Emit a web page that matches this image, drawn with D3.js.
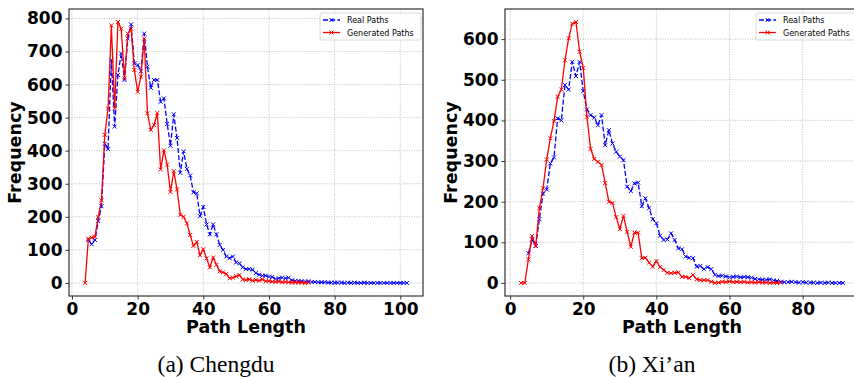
<!DOCTYPE html>
<html>
<head>
<meta charset="utf-8">
<script src="https://cdn.jsdelivr.net/npm/d3@7"></script>
<style>
  body { margin: 0; background: #fff; }
  svg { display: block; }
  .tick text { font-family: "DejaVu Sans", sans-serif; font-weight: bold; font-size: 17px; fill: #000; }
  .axis-label { font-family: "DejaVu Sans", sans-serif; font-weight: bold; font-size: 17.5px; fill: #000; }
  .caption { font-family: "Liberation Serif", "Times New Roman", serif; font-size: 23.5px; fill: #000; }
  .legend text { font-family: "DejaVu Sans", sans-serif; font-size: 8px; fill: #000; }
</style>
</head>
<body>
<div id="chart"></div>
<script>
// path lengths + frequencies
const chengduRealStart = 5;
const chengduReal = [130, 117, 130, 187, 232, 421, 405, 674, 473, 629, 694, 614, 739, 782, 664, 659, 640, 754, 654, 590,
  614, 614, 548, 558, 481, 415, 510, 438, 333, 398, 345, 325, 274, 271, 202, 230, 177, 147, 177, 147,
  115, 100, 80, 75, 80, 62, 59, 47, 42, 42, 40, 30, 25, 22, 22, 19, 18, 12, 14, 16,
  14, 16, 8, 6, 6, 5, 4, 5, 3, 3, 2, 2, 2, 1, 1, 1, 1, 1, 0, 1,
  0, 1, 0, 0, 1, 0, 0, 0, 0, 0, 0, 0, 0, 0, 0, 0, 0, 0];
const chengduGenStart = 4;
const chengduGen = [0, 134, 137, 140, 200, 250, 448, 528, 779, 528, 789, 769, 619, 754, 769, 644, 578, 624, 739, 513,
  463, 478, 514, 343, 401, 358, 275, 338, 283, 206, 200, 180, 145, 112, 124, 84, 102, 74, 47, 77,
  55, 35, 32, 27, 14, 16, 20, 24, 10, 9, 11, 7, 9, 7, 11, 5, 6, 4, 3, 5,
  2, 3, 2, 1, 2, 1, 1, 0, 1];

const xianRealStart = 5;
const xianReal = [73, 107, 91, 157, 220, 230, 294, 309, 405, 400, 487, 476, 544, 509, 544, 472, 427, 413, 407, 388,
  413, 339, 376, 343, 323, 311, 302, 237, 226, 245, 247, 189, 208, 184, 157, 147, 116, 106, 107, 122,
  106, 85, 83, 65, 62, 61, 40, 42, 34, 39, 34, 20, 17, 18, 16, 14, 15, 16, 14, 15,
  14, 13, 10, 9, 8, 8, 9, 6, 5, 3, 2, 2, 3, 2, 1, 2, 1, 1, 1, 0,
  1, 0, 1, 0, 0, 0, 0];
const xianGenStart = 3;
const xianGen = [0, 0, 58, 116, 91, 184, 233, 304, 356, 399, 458, 476, 548, 602, 638, 642, 569, 529, 409, 330,
  305, 298, 290, 246, 200, 197, 162, 133, 165, 126, 89, 124, 124, 61, 62, 50, 40, 54, 39, 32,
  25, 24, 25, 26, 15, 15, 12, 20, 9, 7, 7, 7, 3, 0, 1, 3, 2, 4, 2, 3,
  2, 3, 1, 2, 1, 2, 1, 1, 0, 1, 0, 1];

const seriesNames = ['Real Paths', 'Generated Paths'];
const seriesColors = ['#0000ff', '#ff0000'];

const chengduXTicks = [0, 20, 40, 60, 80, 100];
const chengduYTicks = [0, 100, 200, 300, 400, 500, 600, 700, 800];
const xianXTicks = [0, 20, 40, 60, 80];
const xianYTicks = [0, 100, 200, 300, 400, 500, 600];

function toPoints(start, values) {
  return values.map((v, i) => ({ len: start + i, freq: v }));
}

const svg = d3.select('#chart')
  .append('svg')
  .attr('width', 854)
  .attr('height', 377);

function drawPanel(cfg) {
  const { left, top, width, height, xDomain, yDomain, xTicks, yTicks, series, caption } = cfg;

  const x = d3.scaleLinear().domain(xDomain).range([0, width]);
  const y = d3.scaleLinear().domain(yDomain).range([height, 0]);

  const g = svg.append('g').attr('transform', 'translate(' + left + ',' + top + ')');

  // clip so nothing spills out of the axes box
  const clipId = 'clip-' + left;
  g.append('clipPath').attr('id', clipId)
    .append('rect').attr('width', width).attr('height', height);

  // dotted grid
  g.append('g')
    .selectAll('line')
    .data(xTicks)
    .join('line')
    .attr('x1', d => x(d)).attr('x2', d => x(d))
    .attr('y1', 0).attr('y2', height)
    .attr('stroke', '#b0b0b0')
    .attr('stroke-width', 0.8)
    .attr('stroke-dasharray', '1,1.5');
  g.append('g')
    .selectAll('line')
    .data(yTicks)
    .join('line')
    .attr('x1', 0).attr('x2', width)
    .attr('y1', d => y(d)).attr('y2', d => y(d))
    .attr('stroke', '#b0b0b0')
    .attr('stroke-width', 0.8)
    .attr('stroke-dasharray', '1,1.5');

  // axes
  const xAxis = g.append('g')
    .attr('transform', 'translate(0,' + height + ')')
    .call(d3.axisBottom(x).tickValues(xTicks).tickSize(3.5).tickPadding(3).tickFormat(d3.format('d')));
  const yAxis = g.append('g')
    .call(d3.axisLeft(y).tickValues(yTicks).tickSize(3.5).tickPadding(3).tickFormat(d3.format('d')));
  [xAxis, yAxis].forEach(a => {
    a.select('.domain').remove();
    a.selectAll('.tick line').attr('stroke', '#333').attr('stroke-width', 1);
  });

  // lines + x markers
  const line = d3.line().x(d => x(d.len)).y(d => y(d.freq));
  const plot = g.append('g').attr('clip-path', 'url(#' + clipId + ')');
  series.forEach((s, i) => {
    plot.append('path')
      .datum(s)
      .attr('d', line)
      .attr('fill', 'none')
      .attr('stroke', seriesColors[i])
      .attr('stroke-width', 1.3)
      .attr('stroke-dasharray', i === 0 ? '5,2.2' : null);
    plot.append('g')
      .selectAll('path')
      .data(s)
      .join('path')
      .attr('transform', d => 'translate(' + x(d.len) + ',' + y(d.freq) + ')')
      .attr('d', 'M-2,-2L2,2M-2,2L2,-2')
      .attr('stroke', seriesColors[i])
      .attr('stroke-width', 1);
  });

  // frame
  g.append('rect')
    .attr('width', width).attr('height', height)
    .attr('fill', 'none')
    .attr('stroke', '#333')
    .attr('stroke-width', 1.2);

  // legend (upper right)
  const legW = 101, legH = 27;
  const leg = g.append('g')
    .attr('class', 'legend')
    .attr('transform', 'translate(' + (width - legW - 2) + ',4)');
  leg.append('rect')
    .attr('width', legW).attr('height', legH)
    .attr('rx', 2)
    .attr('fill', 'rgba(255,255,255,0.8)')
    .attr('stroke', '#d0d0d0')
    .attr('stroke-width', 0.8);
  seriesNames.forEach((name, i) => {
    const ly = 7 + i * 12.5;
    leg.append('line')
      .attr('x1', 3).attr('x2', 20)
      .attr('y1', ly).attr('y2', ly)
      .attr('stroke', seriesColors[i])
      .attr('stroke-width', 1.3)
      .attr('stroke-dasharray', i === 0 ? '5,2.2' : null);
    leg.append('path')
      .attr('transform', 'translate(11.5,' + ly + ')')
      .attr('d', 'M-2,-2L2,2M-2,2L2,-2')
      .attr('stroke', seriesColors[i])
      .attr('stroke-width', 1);
    leg.append('text')
      .attr('x', 27).attr('y', ly + 3)
      .text(name);
  });

  // axis labels
  g.append('text')
    .attr('class', 'axis-label')
    .attr('text-anchor', 'middle')
    .attr('x', width / 2)
    .attr('y', height + 37)
    .text('Path Length');
  g.append('text')
    .attr('class', 'axis-label')
    .attr('text-anchor', 'middle')
    .attr('transform', 'translate(' + (-48) + ',' + (height / 2) + ') rotate(-90)')
    .text('Frequency');

  // caption under the panel
  svg.append('text')
    .attr('class', 'caption')
    .attr('text-anchor', 'middle')
    .attr('x', cfg.captionX)
    .attr('y', 372)
    .text(caption);
}

drawPanel({
  left: 69, top: 9, width: 354, height: 287,
  xDomain: [-0.9, 106.9], yDomain: [-39.5, 828.5],
  xTicks: chengduXTicks, yTicks: chengduYTicks,
  series: [toPoints(chengduRealStart, chengduReal), toPoints(chengduGenStart, chengduGen)],
  caption: '(a) Chengdu', captionX: 216
});

drawPanel({
  left: 505, top: 9, width: 354, height: 287,
  xDomain: [-1.4, 95.4], yDomain: [-32.1, 674.1],
  xTicks: xianXTicks, yTicks: xianYTicks,
  series: [toPoints(xianRealStart, xianReal), toPoints(xianGenStart, xianGen)],
  caption: '(b) Xi\u2019an', captionX: 652
});
</script>
</body>
</html>
